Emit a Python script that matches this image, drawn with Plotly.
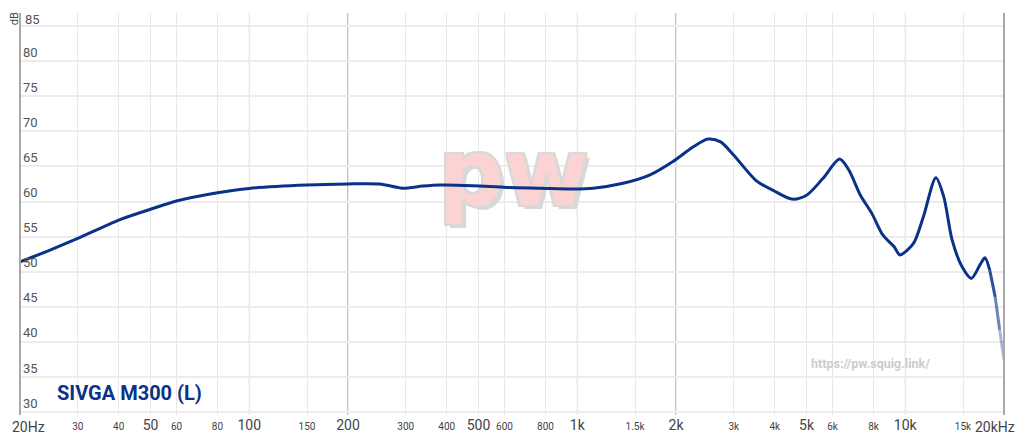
import plotly.graph_objects as go
import numpy as np

# Frequency response
freq_hz = [20, 25, 30, 40, 50, 60, 80, 100, 150, 200, 250, 293, 338, 381, 481, 609, 770, 971,
           1117, 1379, 1667, 1958, 2259, 2504, 2735, 3000, 3525, 3955, 4508, 5000, 5613, 6307,
           6730, 7300, 7900, 8550, 9250, 9630, 10580, 11350, 12400, 13100, 13900, 14900, 15900,
           17000, 17500, 18100, 18800, 19400, 20000]
spl_db = [51.4, 53.2, 54.75, 57.36, 58.9, 60.07, 61.25, 61.87, 62.35, 62.5, 62.5, 61.9, 62.2, 62.35,
          62.26, 62.0, 61.9, 61.8, 61.9, 62.6, 63.8, 65.7, 67.8, 68.9, 68.5, 66.6, 62.9, 61.6,
          60.35, 60.9, 63.3, 66.05, 64.5, 60.9, 58.35, 55.2, 53.55, 52.4, 54.0, 57.8, 63.4, 60.7,
          54.5, 50.7, 49.05, 51.2, 52.0, 50.2, 46.4, 41.7, 37.5]

series_name = "SIVGA M300 (L)"

x_tick_vals = [20, 30, 40, 50, 60, 80, 100, 150, 200, 300, 400, 500, 600, 800, 1000, 1500,
               2000, 3000, 4000, 5000, 6000, 8000, 10000, 15000, 20000]
x_tick_labels = ["20Hz", "30", "40", "50", "60", "80", "100", "150", "200", "300", "400", "500",
                 "600", "800", "1k", "1.5k", "2k", "3k", "4k", "5k", "6k", "8k", "10k", "15k", "20kHz"]
x_major_labels = ["20Hz", "50", "100", "200", "500", "1k", "2k", "5k", "10k", "20kHz"]
x_edge_labels = ["20Hz", "20kHz"]
x_medium_lines = [50, 100, 500, 1000, 5000, 10000]
x_dark_lines = [200, 2000]
y_tick_vals = [30, 35, 40, 45, 50, 55, 60, 65, 70, 75, 80, 85]
y_tick_labels = ["30", "35", "40", "45", "50", "55", "60", "65", "70", "75", "80", "85"]

LINE = "#0b3289"

ticktext = []
for t in x_tick_labels:
    if t in x_edge_labels:
        ticktext.append("")
    elif t in x_major_labels:
        ticktext.append(f"<span style='font-size:14px'>{t}</span>")
    else:
        ticktext.append(f"<span style='font-size:10px'>{t}</span>")
y_ticktext = [t if t != y_tick_labels[-1] else "" for t in y_tick_labels]

fig = go.Figure()

# watermark (drawn first so it sits under the curve)
fig.add_trace(go.Scatter(
    x=[640], y=[62.8], mode="text", text=["pw"], hoverinfo="skip", showlegend=False,
    textfont=dict(family="DejaVu Sans", size=92, color="#fcd3d3", weight="bold",
                  shadow="2px 2px 0 #d8d8d8, -2px -2px 0 #d8d8d8, 2px -2px 0 #d8d8d8, -2px 2px 0 #d8d8d8, 4px 4px 0 #d8d8d8"),
))

# main curve, tail fades out
n = len(freq_hz)
fade_start = n - 4
fig.add_trace(go.Scatter(
    x=freq_hz[:fade_start + 1], y=spl_db[:fade_start + 1], mode="lines",
    line=dict(color=LINE, width=3, shape="spline", smoothing=0.8),
    showlegend=False, hoverinfo="skip"))
alphas = [0.85, 0.6, 0.35]
for i, a in zip(range(fade_start, n - 1), alphas):
    fig.add_trace(go.Scatter(
        x=freq_hz[i:i + 2], y=spl_db[i:i + 2], mode="lines",
        line=dict(color=f"rgba(11,50,137,{a})", width=3),
        showlegend=False, hoverinfo="skip"))

shapes = []
for v in x_medium_lines:
    shapes.append(dict(type="line", xref="x", yref="paper", x0=v, x1=v, y0=0, y1=1,
                       line=dict(color="#d6d6d6", width=1), layer="below"))
for v in x_dark_lines:
    shapes.append(dict(type="line", xref="x", yref="paper", x0=v, x1=v, y0=0, y1=1,
                       line=dict(color="#b4b4b4", width=1.5), layer="below"))
# left axis and right border
shapes.append(dict(type="line", xref="paper", yref="paper", x0=0, x1=0, y0=0, y1=1,
                   line=dict(color="#aaaaaa", width=2)))
shapes.append(dict(type="line", xref="paper", yref="paper", x0=1, x1=1, y0=0, y1=1,
                   line=dict(color="#aaaaaa", width=2)))

annotations = [
    dict(text="<b>" + series_name + "</b>", xref="paper", yref="paper", x=0.0356, y=0.055,
         xanchor="left", yanchor="middle", showarrow=False,
         font=dict(size=20, color=LINE, family="Roboto")),
    dict(text="<b>https://pw.squig.link/</b>", xref="paper", yref="paper", x=0.864, y=0.128,
         xanchor="center", yanchor="middle", showarrow=False,
         font=dict(size=12.5, color="#cccccc", family="Roboto")),
    dict(text="dB", xref="paper", yref="paper", x=-0.0058, y=0.985, textangle=-90,
         xanchor="center", yanchor="middle", showarrow=False,
         font=dict(size=11, color="#444", family="Roboto")),
    dict(text=x_edge_labels[0], xref="paper", yref="paper", x=-0.0102, y=-0.03,
         xanchor="left", yanchor="middle", showarrow=False,
         font=dict(size=14, color="#444", family="Roboto")),
    dict(text=x_edge_labels[1], xref="paper", yref="paper", x=1.0132, y=-0.03,
         xanchor="right", yanchor="middle", showarrow=False,
         font=dict(size=14, color="#444", family="Roboto")),
    dict(text=y_tick_labels[-1], xref="paper", yref="paper", x=0.003, y=0.9826,
         xanchor="left", yanchor="middle", showarrow=False,
         font=dict(size=13, color="#555", family="Roboto")),
]

fig.update_layout(
    width=1016, height=435,
    margin=dict(l=12, r=20, t=5, b=28, autoexpand=False),
    paper_bgcolor="white", plot_bgcolor="white",
    font=dict(family="Roboto", color="#444"),
    shapes=shapes,
    xaxis=dict(type="log", range=[np.log10(20), np.log10(20000)],
               tickvals=x_tick_vals, ticktext=ticktext, automargin=False,
               showgrid=True, gridcolor="#e8e8e8", gridwidth=1,
               showline=False, zeroline=False, ticks="", ticklen=0,
               tickfont=dict(size=14, color="#444", family="Roboto")),
    yaxis=dict(range=[29.6, 86.85], tickvals=y_tick_vals, ticktext=y_ticktext, automargin=False,
               showgrid=True, gridcolor="#ececec", gridwidth=2,
               showline=False, zeroline=False, ticks="",
               ticklabelposition="inside top",
               tickfont=dict(size=13, color="#555", family="Roboto")),
    annotations=annotations,
)

fig.write_html("out.html")
